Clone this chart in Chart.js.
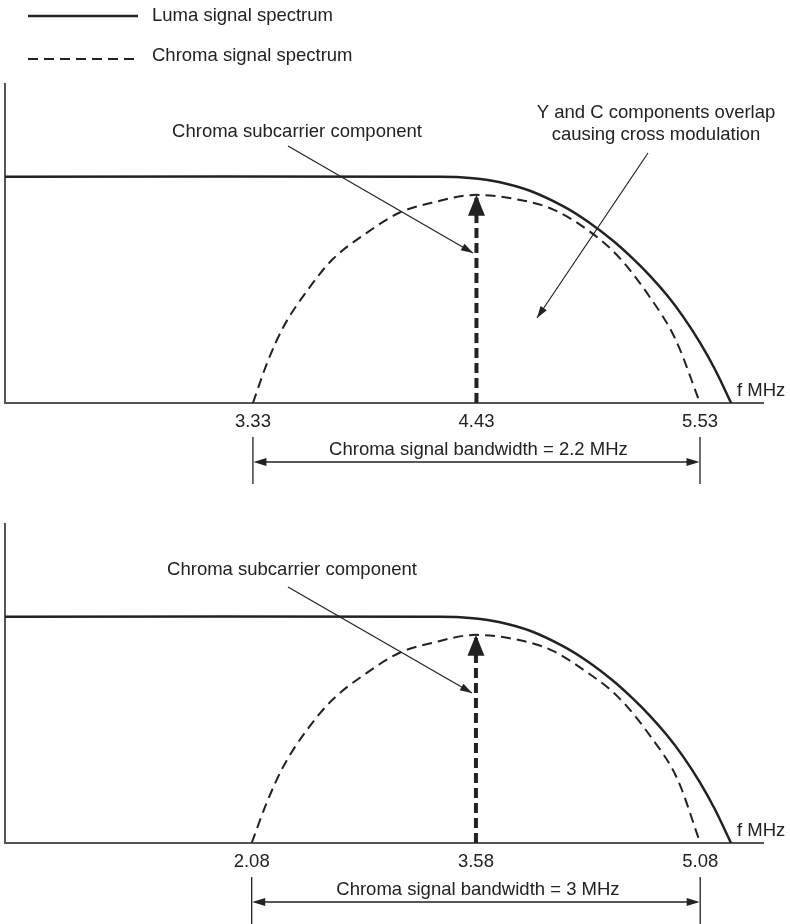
<!DOCTYPE html>
<html>
<head>
<meta charset="utf-8">
<script src="https://cdn.jsdelivr.net/npm/chart.js@4.4.1/dist/chart.umd.min.js"></script>
<style>
  html, body { margin: 0; padding: 0; background: #ffffff; }
  #wrap { position: relative; width: 790px; height: 924px; }
  canvas { position: absolute; left: 0; display: block; }
  #c1 { top: 0; }
  #c2 { top: 500px; }
</style>
</head>
<body>
<div id="wrap">
  <canvas id="c1" width="790" height="500"></canvas>
  <canvas id="c2" width="790" height="424"></canvas>
</div>
<script>
// ---------- DATA ----------
// Relative amplitude: luma flat level = 1
// Upper panel (4.43 MHz subcarrier)
const topTicks   = [3.33, 4.43, 5.53];
const topLumaF   = [2.11, 4.251, 4.398, 4.546, 4.693, 4.856, 4.979, 5.102, 5.200, 5.284, 5.368, 5.446, 5.530, 5.604, 5.683];
const topLumaA   = [1.00, 1.00, 0.995, 0.976, 0.938, 0.870, 0.801, 0.717, 0.638, 0.562, 0.476, 0.383, 0.267, 0.148, 0.00];
const topChromaF = [3.33, 3.40, 3.48, 3.60, 3.72, 3.89, 4.05, 4.21, 4.43, 4.63, 4.79, 4.95, 5.12, 5.28, 5.41, 5.53];
const topChromaA = [0.00, 0.177, 0.336, 0.500, 0.633, 0.752, 0.841, 0.885, 0.920, 0.900, 0.862, 0.782, 0.655, 0.472, 0.280, 0.00];
const topCarrierF = 4.43;
const topCarrierA = 0.92;
const topBandwidthLabel = 'Chroma signal bandwidth = 2.2 MHz';

// Lower panel (3.58 MHz subcarrier)
const botTicks   = [2.08, 3.58, 5.08];
const botLumaF   = [0.43, 3.340, 3.540, 3.741, 3.942, 4.162, 4.330, 4.497, 4.630, 4.744, 4.858, 4.965, 5.079, 5.179, 5.286];
const botLumaA   = [1.00, 1.00, 0.995, 0.976, 0.938, 0.870, 0.801, 0.717, 0.638, 0.562, 0.476, 0.383, 0.267, 0.148, 0.00];
const botChromaF = [2.08, 2.18, 2.29, 2.45, 2.62, 2.85, 3.07, 3.29, 3.58, 3.86, 4.08, 4.30, 4.53, 4.75, 4.93, 5.08];
const botChromaA = [0.00, 0.177, 0.336, 0.500, 0.633, 0.752, 0.841, 0.885, 0.920, 0.898, 0.854, 0.765, 0.646, 0.469, 0.279, 0.00];
const botCarrierF = 3.58;
const botCarrierA = 0.92;
const botBandwidthLabel = 'Chroma signal bandwidth = 3 MHz';

const legendLuma   = 'Luma signal spectrum';
const legendChroma = 'Chroma signal spectrum';
const carrierLabel = 'Chroma subcarrier component';
const overlapLabel = ['Y and C components overlap', 'causing cross modulation'];
const axisLabel    = 'f MHz';

// ---------- STYLE ----------
const FONT = '"Liberation Sans", Arial, Helvetica, sans-serif';
const FS = 18.5;
const INK = '#222222';
const AXIS = '#555555';

function zip(xs, ys) { return xs.map((x, i) => ({ x: x, y: ys[i] })); }

function arrowHead(ctx, x1, y1, x2, y2, len, half) {
  const a = Math.atan2(y2 - y1, x2 - x1);
  ctx.beginPath();
  ctx.moveTo(x2, y2);
  ctx.lineTo(x2 - len * Math.cos(a) + half * Math.sin(a), y2 - len * Math.sin(a) - half * Math.cos(a));
  ctx.lineTo(x2 - len * Math.cos(a) - half * Math.sin(a), y2 - len * Math.sin(a) + half * Math.cos(a));
  ctx.closePath();
  ctx.fill();
}

const annot = {
  id: 'annot',
  afterDatasetsDraw(chart, args, o) {
    const ctx = chart.ctx;
    const xs = chart.scales.x, ys = chart.scales.y;
    const area = chart.chartArea;
    ctx.save();
    ctx.fillStyle = INK;
    ctx.strokeStyle = INK;
    ctx.font = FS + 'px ' + FONT;
    ctx.textBaseline = 'middle';

    // carrier arrow head
    const cx = xs.getPixelForValue(o.carrierF);
    const cy = ys.getPixelForValue(o.carrierA);
    ctx.beginPath();
    ctx.moveTo(cx, cy);
    ctx.lineTo(cx + 8.5, cy + 21);
    ctx.lineTo(cx - 8.5, cy + 21);
    ctx.closePath();
    ctx.fill();

    // leader annotations
    ctx.lineWidth = 1.2;
    o.leaders.forEach(l => {
      ctx.textAlign = 'center';
      l.lines.forEach((t, i) => ctx.fillText(t, l.tx, l.ty + i * 22));
      ctx.beginPath();
      ctx.moveTo(l.from[0], l.from[1]);
      ctx.lineTo(l.to[0], l.to[1]);
      ctx.stroke();
      arrowHead(ctx, l.from[0], l.from[1], l.to[0], l.to[1], 12, 3.8);
    });

    // axis label
    ctx.textAlign = 'left';
    ctx.fillText(axisLabel, area.right - 26, area.bottom - 12);

    // bandwidth bracket
    const x1 = xs.getPixelForValue(o.ticks[0]);
    const x2 = xs.getPixelForValue(o.ticks[o.ticks.length - 1]);
    const b = area.bottom;
    ctx.lineWidth = 1.3;
    ctx.beginPath();
    ctx.moveTo(x1, b + 34); ctx.lineTo(x1, b + 81);
    ctx.moveTo(x2, b + 34); ctx.lineTo(x2, b + 81);
    ctx.moveTo(x1 + 6, b + 59); ctx.lineTo(x2 - 6, b + 59);
    ctx.stroke();
    arrowHead(ctx, x2, b + 59, x1 + 0.5, b + 59, 13, 4);
    arrowHead(ctx, x1, b + 59, x2 - 0.5, b + 59, 13, 4);
    ctx.textAlign = 'center';
    ctx.fillText(o.bandwidth, (x1 + x2) / 2 + 2, b + 47);

    // legend
    if (o.legend) {
      const ds = chart.data.datasets;
      const rows = [
        { d: ds[1], y: 16, ty: 16 },
        { d: ds[0], y: 59, ty: 56 }
      ];
      rows.forEach(r => {
        ctx.lineWidth = r.d.borderWidth;
        ctx.setLineDash(r.d.borderDash || []);
        ctx.beginPath();
        ctx.moveTo(28, r.y); ctx.lineTo(138, r.y);
        ctx.stroke();
        ctx.setLineDash([]);
        ctx.textAlign = 'left';
        ctx.fillText(r.d.label, 152, r.ty);
      });
    }
    ctx.restore();
  }
};

function makeChart(id, p) {
  return new Chart(document.getElementById(id), {
    type: 'line',
    data: {
      datasets: [
        { label: legendChroma, data: zip(p.chromaF, p.chromaA), borderColor: INK, borderWidth: 2,
          borderDash: [10, 6], cubicInterpolationMode: 'monotone', pointRadius: 0, fill: false },
        { label: legendLuma, data: zip(p.lumaF, p.lumaA), borderColor: INK, borderWidth: 2.5,
          tension: 0.35, pointRadius: 0, fill: false },
        { label: carrierLabel, data: [{ x: p.carrierF, y: 0 }, { x: p.carrierF, y: p.carrierA }],
          borderColor: INK, borderWidth: 4, borderDash: [10, 5], pointRadius: 0, fill: false }
      ]
    },
    options: {
      responsive: false, animation: false, devicePixelRatio: 1,
      layout: { padding: { left: 5, right: 27, top: p.padTop, bottom: 0 } },
      plugins: {
        legend: { display: false }, tooltip: { enabled: false },
        annot: {
          carrierF: p.carrierF, carrierA: p.carrierA, ticks: p.ticks,
          bandwidth: p.bandwidth, leaders: p.leaders, legend: p.legend
        }
      },
      scales: {
        x: {
          type: 'linear', min: p.xmin, max: p.xmax,
          afterBuildTicks: a => { a.ticks = p.ticks.map(v => ({ value: v })); },
          afterFit: a => { a.height = p.axisH; },
          grid: { display: true, drawOnChartArea: false, drawTicks: false },
          border: { display: true, color: AXIS, width: 2 },
          ticks: { padding: 8, color: INK, font: { family: FONT, size: FS },
                   callback: v => Number(v).toFixed(2), maxRotation: 0, autoSkip: false }
        },
        y: {
          min: 0, max: 1.41,
          afterFit: a => { a.width = 0; },
          grid: { display: true, drawOnChartArea: false, drawTicks: false },
          border: { display: true, color: AXIS, width: 2 },
          ticks: { display: false }
        }
      }
    },
    plugins: [annot]
  });
}

makeChart('c1', {
  lumaF: topLumaF, lumaA: topLumaA, chromaF: topChromaF, chromaA: topChromaA,
  carrierF: topCarrierF, carrierA: topCarrierA, ticks: topTicks, bandwidth: topBandwidthLabel,
  xmin: 2.11, xmax: 5.84, padTop: 84, axisH: 97, legend: true,
  leaders: [
    { lines: [carrierLabel], tx: 297, ty: 132, from: [288, 146], to: [473, 253] },
    { lines: overlapLabel, tx: 656, ty: 113, from: [648, 153], to: [537, 318] }
  ]
});

makeChart('c2', {
  lumaF: botLumaF, lumaA: botLumaA, chromaF: botChromaF, chromaA: botChromaA,
  carrierF: botCarrierF, carrierA: botCarrierA, ticks: botTicks, bandwidth: botBandwidthLabel,
  xmin: 0.43, xmax: 5.50, padTop: 24, axisH: 81, legend: false,
  leaders: [
    { lines: [carrierLabel], tx: 292, ty: 70, from: [288, 87], to: [472, 193] }
  ]
});
</script>
</body>
</html>
